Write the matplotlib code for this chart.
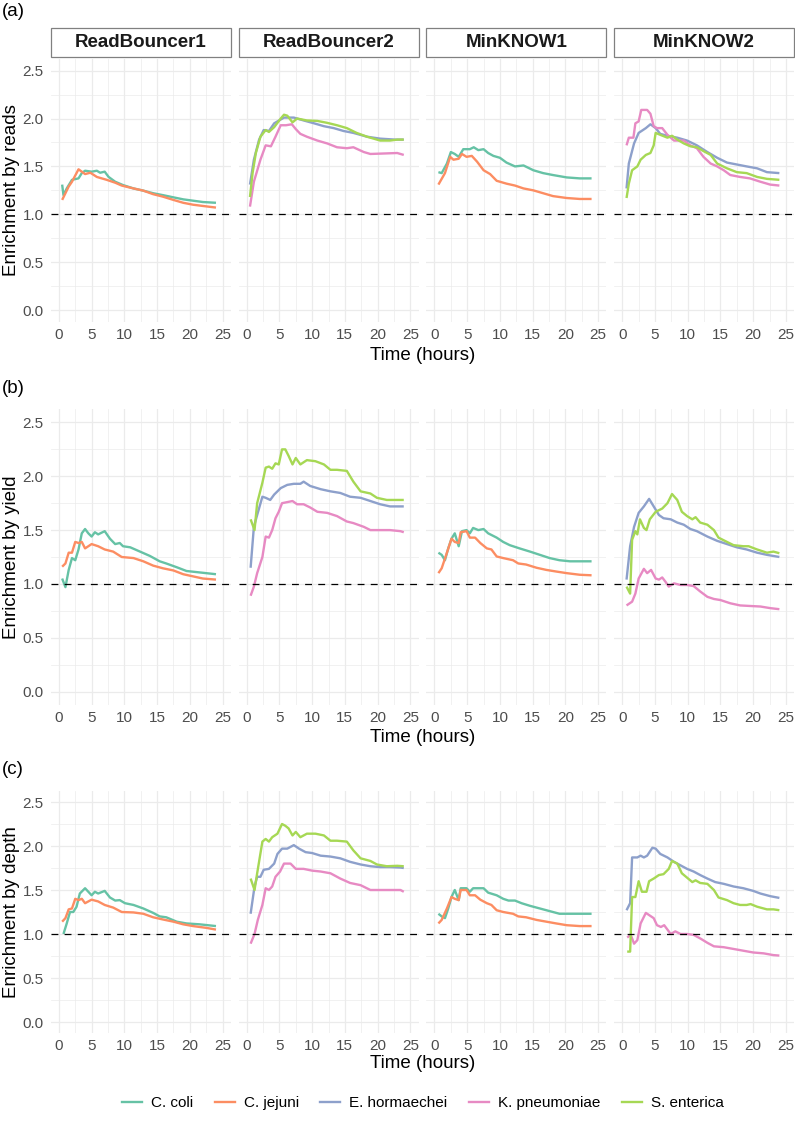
import matplotlib
matplotlib.use("Agg")
import matplotlib.pyplot as plt
from matplotlib.lines import Line2D
from matplotlib.patches import Rectangle

plt.rcParams['font.family'] = ['Liberation Sans', 'DejaVu Sans']

# ---------------- categories ----------------
SPECIES = ["C. coli", "C. jejuni", "E. hormaechei", "K. pneumoniae", "S. enterica"]
COLORS = ["#66C2A5", "#FC8D62", "#8DA0CB", "#E78AC3", "#A6D854"]
TOOLS = ["ReadBouncer1", "ReadBouncer2", "MinKNOW1", "MinKNOW2"]
ROW_LABELS = ["(a)", "(b)", "(c)"]
Y_TITLES = ["Enrichment by reads", "Enrichment by yield", "Enrichment by depth"]
X_TITLE = "Time (hours)"
X_TICKS = [0, 5, 10, 15, 20, 25]
Y_TICKS = [0.0, 0.5, 1.0, 1.5, 2.0, 2.5]

# ---------------- (a) enrichment by reads: (time, value) ----------------
reads_rb1_coli = [(0.5,1.31),(0.7,1.20),(1.2,1.27),(2,1.36),(3,1.375),(3.5,1.43),(4,1.455),(5,1.445),(5.8,1.455),(6.3,1.434),(7,1.445),(7.6,1.39),(8.6,1.34),(9.8,1.305),(11.4,1.27),(12.9,1.247),(14.4,1.22),(15.9,1.20),(17.5,1.177),(19,1.156),(20.5,1.142),(22,1.128),(24,1.12)]
reads_rb1_jejuni = [(0.5,1.15),(1.5,1.29),(2,1.34),(3,1.47),(3.5,1.445),(4,1.42),(4.8,1.434),(5.8,1.39),(7.3,1.36),(8.6,1.33),(9.6,1.30),(11.4,1.27),(12.9,1.247),(14.4,1.21),(15.9,1.184),(17.5,1.15),(19,1.12),(20.5,1.10),(22,1.087),(24,1.07)]
reads_rb2_horm = [(0.5,1.31),(1.1,1.57),(1.9,1.78),(2.6,1.88),(3.4,1.87),(4.2,1.95),(5.2,1.99),(5.7,2.01),(7.2,2.01),(8.7,1.98),(10.3,1.95),(11.8,1.92),(13.3,1.90),(14.8,1.87),(16.3,1.85),(18.4,1.81),(20.4,1.79),(22.7,1.78),(24,1.78)]
reads_rb2_kpn = [(0.5,1.08),(1.1,1.34),(2.1,1.57),(2.9,1.72),(3.7,1.71),(4.4,1.81),(5.2,1.93),(6,1.93),(6.9,1.94),(7.5,1.89),(8.2,1.84),(9.2,1.81),(10.8,1.77),(12.3,1.74),(13.8,1.70),(15.3,1.69),(16.3,1.70),(17.9,1.65),(18.9,1.63),(21,1.635),(23,1.64),(24,1.62)]
reads_rb2_sent = [(0.5,1.18),(0.9,1.43),(1.4,1.64),(2.1,1.81),(2.9,1.88),(3.4,1.86),(4.2,1.91),(5.2,2.0),(5.7,2.04),(6.2,2.03),(7,1.96),(7.7,2.0),(9.2,1.98),(10.8,1.975),(12.3,1.955),(13.8,1.93),(15.3,1.90),(16.8,1.85),(18.4,1.81),(20.4,1.77),(21.9,1.77),(23,1.78),(24,1.78)]
reads_mk1_coli = [(0.6,1.44),(1.1,1.43),(1.9,1.53),(2.5,1.65),(3.1,1.63),(3.7,1.60),(4.4,1.68),(5.4,1.68),(6,1.70),(6.7,1.67),(7.5,1.68),(8.2,1.64),(9,1.61),(10,1.59),(11,1.54),(12.3,1.50),(13.6,1.51),(15.1,1.46),(16.6,1.43),(18.1,1.41),(20.2,1.385),(22.2,1.375),(24,1.375)]
reads_mk1_jejuni = [(0.6,1.31),(1.6,1.43),(2.4,1.60),(2.9,1.57),(3.7,1.58),(4.2,1.63),(4.9,1.60),(5.7,1.61),(6.5,1.55),(7.5,1.46),(8.5,1.42),(9.5,1.35),(11,1.32),(12.3,1.30),(13.6,1.27),(15.1,1.25),(16.6,1.22),(18.1,1.19),(20.2,1.17),(22.2,1.16),(24,1.16)]
reads_mk2_horm = [(0.65,1.27),(1,1.53),(1.8,1.74),(2.5,1.85),(3.6,1.90),(4.3,1.94),(5.1,1.90),(5.8,1.84),(6.9,1.82),(8.4,1.80),(9.9,1.77),(11.4,1.72),(13,1.65),(14.5,1.59),(16,1.54),(17.5,1.52),(19,1.50),(20.6,1.48),(22.1,1.44),(24,1.43)]
reads_mk2_kpn = [(0.65,1.72),(1,1.80),(1.7,1.80),(2,1.95),(2.5,1.97),(2.9,2.09),(3.8,2.09),(4.3,2.05),(4.8,1.92),(5.3,1.90),(6.1,1.90),(6.9,1.83),(7.9,1.77),(9.4,1.77),(10.4,1.72),(11.4,1.69),(12.4,1.60),(13.5,1.53),(14.5,1.50),(15.5,1.46),(16.5,1.41),(18,1.39),(19.5,1.375),(21.1,1.34),(22.6,1.31),(24,1.30)]
reads_mk2_sent = [(0.65,1.17),(1,1.32),(1.5,1.46),(2.3,1.50),(2.8,1.57),(3.6,1.62),(4.3,1.64),(4.8,1.72),(5.1,1.85),(5.8,1.83),(6.9,1.80),(7.6,1.82),(8.4,1.78),(9.4,1.74),(10.4,1.71),(11.4,1.70),(12.4,1.66),(13.5,1.62),(14.5,1.53),(16,1.48),(17.5,1.44),(19,1.43),(20.6,1.39),(22.1,1.37),(24,1.36)]

# ---------------- (b) enrichment by yield ----------------
yield_rb1_coli = [(0.5,1.05),(1,0.97),(1.5,1.13),(2,1.24),(2.5,1.22),(3,1.32),(3.5,1.47),(4,1.51),(4.5,1.47),(5,1.44),(5.5,1.48),(6,1.46),(7,1.49),(7.8,1.42),(8.6,1.37),(9.3,1.38),(9.8,1.35),(10.9,1.34),(12.4,1.30),(13.9,1.26),(15.4,1.21),(16.4,1.19),(18,1.155),(19.5,1.12),(21,1.11),(22.5,1.10),(24,1.09)]
yield_rb1_jejuni = [(0.5,1.16),(1,1.19),(1.5,1.29),(2,1.29),(2.5,1.39),(3,1.38),(3.5,1.39),(4,1.33),(5,1.37),(6,1.35),(7,1.32),(8.3,1.30),(9.6,1.25),(11.4,1.24),(12.9,1.21),(14.4,1.17),(15.9,1.145),(17.5,1.125),(19,1.09),(20.5,1.07),(22,1.05),(24,1.04)]
yield_rb2_horm = [(0.6,1.15),(1.1,1.53),(1.6,1.64),(2.4,1.81),(2.9,1.80),(3.6,1.78),(4.2,1.83),(5.2,1.89),(6.2,1.92),(7.2,1.93),(8.2,1.93),(8.7,1.95),(9.7,1.91),(11.3,1.88),(12.8,1.86),(14.3,1.845),(15.8,1.81),(17.4,1.80),(18.9,1.77),(20.4,1.74),(21.9,1.72),(24,1.72)]
yield_rb2_kpn = [(0.6,0.89),(1.1,0.975),(1.6,1.10),(2.4,1.25),(2.9,1.44),(3.4,1.43),(3.9,1.50),(4.4,1.61),(4.9,1.67),(5.4,1.75),(6.2,1.76),(7,1.77),(7.7,1.74),(8.7,1.74),(9.7,1.71),(10.8,1.67),(12.3,1.66),(13.8,1.63),(15.3,1.58),(16.3,1.565),(17.9,1.53),(18.9,1.50),(20.4,1.50),(21.9,1.50),(23.5,1.49),(24,1.48)]
yield_rb2_sent = [(0.6,1.60),(1.2,1.50),(1.6,1.75),(2.4,1.94),(2.9,2.08),(3.4,2.09),(3.9,2.07),(4.4,2.12),(4.9,2.11),(5.4,2.25),(5.9,2.25),(6.4,2.19),(7,2.11),(7.5,2.17),(8.2,2.11),(9.2,2.15),(10.5,2.14),(11.8,2.11),(12.8,2.06),(13.8,2.06),(15.3,2.05),(16.3,1.95),(17.4,1.86),(18.9,1.84),(19.9,1.80),(21.4,1.78),(23,1.78),(24,1.78)]
yield_mk1_coli = [(0.6,1.29),(1.1,1.27),(1.6,1.22),(2.1,1.33),(2.6,1.42),(3.1,1.47),(3.7,1.35),(4.2,1.49),(4.9,1.50),(5.4,1.47),(5.9,1.52),(6.7,1.50),(7.5,1.51),(8.2,1.47),(9.5,1.43),(10.5,1.39),(11.5,1.36),(13,1.33),(14.6,1.30),(16.1,1.27),(17.6,1.24),(19.1,1.22),(20.7,1.21),(22.2,1.21),(24,1.21)]
yield_mk1_jejuni = [(0.6,1.10),(1.1,1.145),(1.9,1.29),(2.6,1.42),(3.1,1.39),(3.7,1.38),(4,1.48),(4.9,1.49),(5.4,1.43),(6.2,1.43),(7,1.38),(8,1.33),(8.7,1.32),(9.5,1.255),(10.5,1.24),(12,1.22),(12.8,1.19),(14,1.18),(15.6,1.15),(17.1,1.13),(18.6,1.115),(20.2,1.10),(22.2,1.085),(24,1.08)]
yield_mk2_horm = [(0.65,1.04),(1.2,1.35),(1.8,1.53),(2.5,1.66),(3.3,1.72),(4.1,1.79),(4.8,1.72),(5.6,1.64),(6.3,1.61),(7.4,1.60),(8.4,1.57),(9.4,1.55),(10.4,1.51),(11.4,1.49),(13,1.44),(14.5,1.40),(16,1.37),(17.5,1.34),(19,1.32),(20.6,1.29),(22.1,1.27),(24,1.25)]
yield_mk2_kpn = [(0.65,0.80),(1.5,0.835),(2,0.91),(2.5,1.05),(3.3,1.14),(3.8,1.10),(4.4,1.13),(5.1,1.05),(5.6,1.04),(6.1,1.06),(6.6,1.02),(7.1,0.975),(7.9,1.005),(8.9,0.99),(9.9,0.99),(10.9,0.98),(11.9,0.93),(13,0.88),(14,0.86),(15,0.85),(16.5,0.82),(18,0.80),(19.5,0.795),(21.1,0.79),(22.6,0.775),(24,0.765)]
yield_mk2_sent = [(0.65,0.975),(1.2,0.91),(1.5,1.41),(2,1.49),(2.3,1.46),(2.7,1.60),(3.3,1.52),(3.7,1.50),(4.2,1.60),(5.1,1.67),(6.1,1.70),(6.9,1.75),(7.6,1.835),(8.4,1.78),(9.1,1.67),(9.9,1.63),(10.7,1.60),(11.2,1.62),(11.9,1.57),(13,1.55),(14,1.50),(14.7,1.43),(16,1.39),(17,1.36),(18.5,1.35),(19.3,1.35),(20.6,1.32),(22.1,1.29),(23.1,1.30),(24,1.285)]

# ---------------- (c) enrichment by depth ----------------
depth_rb1_coli = [(0.7,1.0),(1.2,1.12),(1.7,1.25),(2.2,1.25),(2.7,1.31),(3.2,1.46),(4,1.52),(4.5,1.48),(5,1.44),(5.5,1.48),(6,1.46),(7,1.49),(7.8,1.415),(8.6,1.38),(9.3,1.385),(10.1,1.35),(11.4,1.33),(12.9,1.29),(14.4,1.24),(15.4,1.20),(16.4,1.19),(18,1.14),(19.5,1.12),(21.5,1.11),(24,1.09)]
depth_rb1_jejuni = [(0.5,1.14),(1,1.18),(1.5,1.28),(2,1.29),(2.5,1.40),(3,1.385),(3.5,1.40),(4,1.35),(5,1.39),(6,1.37),(7,1.33),(8.3,1.30),(9.6,1.25),(11.4,1.245),(12.9,1.23),(14.4,1.19),(15.9,1.165),(17.5,1.14),(19,1.11),(20.5,1.09),(22.5,1.07),(24,1.05)]
depth_rb2_horm = [(0.6,1.23),(1.2,1.54),(1.6,1.65),(2.1,1.65),(2.6,1.73),(3.4,1.74),(4.2,1.80),(4.7,1.91),(5.4,1.97),(6.2,1.97),(7.2,2.01),(8,1.97),(9,1.93),(10,1.92),(11.3,1.89),(12.8,1.88),(14.3,1.86),(15.8,1.82),(17.4,1.79),(18.9,1.77),(20.4,1.76),(21.9,1.76),(23.5,1.755),(24,1.75)]
depth_rb2_kpn = [(0.6,0.89),(1.2,1.0),(1.7,1.16),(2.4,1.33),(2.9,1.52),(3.4,1.50),(3.9,1.54),(4.4,1.65),(5.1,1.71),(5.7,1.80),(6.7,1.80),(7.5,1.74),(8.7,1.74),(10,1.72),(11.3,1.71),(12.8,1.69),(14.3,1.63),(15.8,1.58),(17.4,1.555),(18.9,1.50),(20.4,1.50),(21.9,1.50),(23.5,1.50),(24,1.48)]
depth_rb2_sent = [(0.6,1.63),(1.2,1.50),(1.6,1.69),(2.4,2.05),(2.9,2.08),(3.4,2.05),(3.9,2.10),(4.7,2.14),(5.4,2.25),(5.9,2.23),(6.4,2.20),(7,2.12),(7.5,2.16),(8.2,2.10),(9.2,2.14),(10.5,2.14),(11.8,2.12),(12.8,2.06),(13.8,2.06),(15.3,2.05),(16.3,1.95),(17.4,1.86),(18.9,1.83),(19.9,1.79),(21.4,1.77),(23,1.775),(24,1.77)]
depth_mk1_coli = [(0.6,1.23),(1.1,1.20),(1.6,1.18),(2.1,1.29),(2.6,1.42),(3.1,1.50),(3.7,1.385),(4,1.52),(4.9,1.52),(5.4,1.48),(5.9,1.52),(6.7,1.52),(7.5,1.52),(8.2,1.47),(9.5,1.44),(10.5,1.40),(11.3,1.38),(12.3,1.38),(13.3,1.35),(14.6,1.32),(16.1,1.29),(17.6,1.26),(19.1,1.23),(20.7,1.23),(22.2,1.23),(24,1.23)]
depth_mk1_jejuni = [(0.6,1.12),(1.1,1.16),(1.9,1.29),(2.6,1.42),(3.1,1.40),(3.7,1.385),(4,1.50),(4.9,1.50),(5.4,1.44),(6.2,1.44),(7,1.39),(8,1.35),(8.7,1.33),(9.5,1.27),(10.5,1.25),(12,1.23),(12.8,1.20),(14,1.19),(15.6,1.16),(17.1,1.14),(18.6,1.12),(20.2,1.10),(22.2,1.09),(24,1.09)]
depth_mk2_horm = [(0.65,1.27),(1.2,1.35),(1.5,1.87),(2.3,1.87),(2.8,1.89),(3.3,1.87),(3.8,1.89),(4.6,1.98),(5.1,1.97),(5.8,1.91),(6.9,1.87),(7.9,1.82),(8.9,1.78),(9.9,1.74),(10.9,1.71),(11.9,1.67),(13,1.63),(14.2,1.59),(15.5,1.57),(17,1.54),(18.5,1.52),(20,1.49),(21.1,1.46),(22.6,1.43),(24,1.41)]
depth_mk2_kpn = [(0.75,0.96),(1.3,0.99),(1.8,0.89),(2.3,0.93),(2.8,1.12),(3.6,1.24),(4.1,1.215),(4.8,1.18),(5.3,1.10),(5.9,1.08),(6.4,1.10),(6.9,1.05),(7.4,1.00),(8.1,1.03),(8.9,1.00),(9.9,1.00),(10.9,0.99),(11.9,0.95),(13,0.90),(14,0.86),(15.5,0.85),(17,0.83),(18.5,0.81),(20,0.79),(21.6,0.78),(23.1,0.76),(24,0.755)]
depth_mk2_sent = [(0.75,0.80),(1.2,0.80),(1.5,1.42),(2,1.42),(2.5,1.60),(3,1.48),(3.7,1.48),(4.1,1.60),(4.8,1.63),(5.6,1.67),(6.3,1.68),(7.1,1.74),(7.6,1.83),(8.4,1.80),(9.1,1.69),(9.9,1.64),(10.7,1.59),(11.2,1.61),(11.9,1.58),(13,1.57),(14,1.50),(14.7,1.415),(16,1.385),(17,1.35),(18,1.33),(19,1.33),(19.6,1.34),(20.6,1.31),(22.1,1.28),(23.1,1.28),(24,1.27)]

# panel -> list of (species index, series)
PANELS = [
    [  # reads
        [(0, reads_rb1_coli), (1, reads_rb1_jejuni)],
        [(2, reads_rb2_horm), (3, reads_rb2_kpn), (4, reads_rb2_sent)],
        [(0, reads_mk1_coli), (1, reads_mk1_jejuni)],
        [(2, reads_mk2_horm), (3, reads_mk2_kpn), (4, reads_mk2_sent)],
    ],
    [  # yield
        [(0, yield_rb1_coli), (1, yield_rb1_jejuni)],
        [(2, yield_rb2_horm), (3, yield_rb2_kpn), (4, yield_rb2_sent)],
        [(0, yield_mk1_coli), (1, yield_mk1_jejuni)],
        [(2, yield_mk2_horm), (3, yield_mk2_kpn), (4, yield_mk2_sent)],
    ],
    [  # depth
        [(0, depth_rb1_coli), (1, depth_rb1_jejuni)],
        [(2, depth_rb2_horm), (3, depth_rb2_kpn), (4, depth_rb2_sent)],
        [(0, depth_mk1_coli), (1, depth_mk1_jejuni)],
        [(2, depth_mk2_horm), (3, depth_mk2_kpn), (4, depth_mk2_sent)],
    ],
]

# ---------------- layout (pixels) ----------------
W, H = 795, 1121
fig = plt.figure(figsize=(W / 100, H / 100), dpi=100)
fig.patch.set_facecolor("white")

COL_LEFT = [50.7, 238.5, 426.3, 614.1]
COL_W = 180.0
ROW_TB = [(58.7, 322.0), (409.0, 705.0), (791.0, 1033.0)]
XLAB_Y = [355, 737, 1064]
ROWLAB_Y = [12, 388, 770]
STRIP_TB = (27.5, 57.3)
LEGEND_Y = 1103

GRID = "#EBEBEB"
TXT = "#4D4D4D"


def fx(px):
    return px / W


def fy(py):
    return 1 - py / H


for r in range(3):
    top, bot = ROW_TB[r]
    for c in range(4):
        ax = fig.add_axes([fx(COL_LEFT[c]), fy(bot), COL_W / W, (bot - top) / H])
        ax.set_xlim(-1.25, 26.25)
        ax.set_ylim(-0.125, 2.625)
        for s in ax.spines.values():
            s.set_visible(False)
        ax.set_xticks(X_TICKS)
        ax.set_yticks(Y_TICKS)
        ax.set_xticks([2.5, 7.5, 12.5, 17.5, 22.5], minor=True)
        ax.set_yticks([0.25, 0.75, 1.25, 1.75, 2.25], minor=True)
        ax.grid(True, which="major", color=GRID, lw=0.9, zorder=0)
        ax.grid(True, which="minor", color=GRID, lw=0.5, zorder=0)
        ax.set_axisbelow(True)
        ax.tick_params(which="both", length=0)
        ax.tick_params(axis="x", labelsize=11, labelcolor=TXT, pad=4.5)
        ax.tick_params(axis="y", labelsize=11, labelcolor=TXT, pad=5)
        ax.set_xticklabels([str(v) for v in X_TICKS])
        if c == 0:
            ax.set_yticklabels([f"{v:.1f}" for v in Y_TICKS])
        else:
            ax.set_yticklabels([])
        for si, series in PANELS[r][c]:
            xs = [p[0] for p in series]
            ys = [p[1] for p in series]
            ax.plot(xs, ys, color=COLORS[si], lw=1.7, solid_joinstyle="round",
                    solid_capstyle="butt", zorder=2 + si * 0.01)
        ax.axhline(1.0, color="black", lw=0.9, ls=(0, (5.5, 5)), zorder=3)

        if r == 0:
            st, sb = STRIP_TB
            rect = Rectangle((fx(COL_LEFT[c]), fy(sb)), COL_W / W, (sb - st) / H,
                             transform=fig.transFigure, facecolor="white",
                             edgecolor="#808080", lw=0.9)
            fig.add_artist(rect)
            fig.text(fx(COL_LEFT[c] + COL_W / 2), fy((st + sb) / 2), TOOLS[c],
                     ha="center", va="center", fontsize=13.5, fontweight="bold",
                     color="#1A1A1A")

    # row labels and titles
    fig.text(fx(2), fy(ROWLAB_Y[r]), ROW_LABELS[r], ha="left", va="center",
             fontsize=13.5, color="black")
    fig.text(fx(12), fy((top + bot) / 2), Y_TITLES[r], rotation=90,
             ha="center", va="center", fontsize=13.5, color="black")
    fig.text(fx((COL_LEFT[0] + COL_LEFT[3] + COL_W) / 2), fy(XLAB_Y[r]), X_TITLE,
             ha="center", va="center", fontsize=13.5, color="black")

handles = [Line2D([0], [0], color=COLORS[i], lw=1.7) for i in range(len(SPECIES))]
fig.legend(handles, SPECIES, loc="center", bbox_to_anchor=(fx(423), fy(LEGEND_Y)),
           ncol=5, frameon=False, fontsize=11, handlelength=1.3,
           columnspacing=1.4, handletextpad=0.6)

fig.savefig("out.png", dpi=100, facecolor="white")
